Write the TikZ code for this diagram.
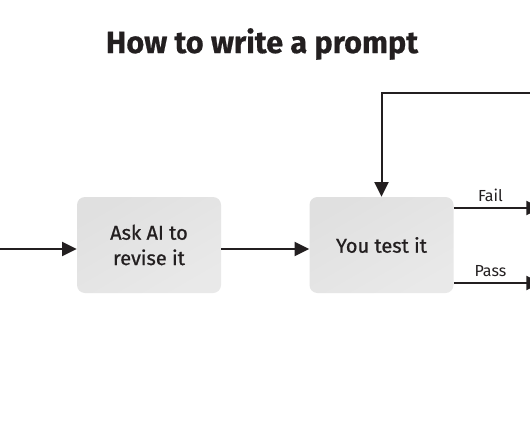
\documentclass[tikz,border=0pt]{standalone}
\usepackage{fontspec}
\setmainfont{Fira Sans}
\usetikzlibrary{arrows.meta}
\definecolor{ink}{HTML}{231F20}
\definecolor{boxfill}{HTML}{E0E0E0}
\definecolor{boxfillb}{HTML}{E9E9E9}
\tikzset{
  stepbox/.style={rounded corners=6pt, minimum width=108pt, minimum height=72pt,
    inner sep=0pt, draw=none, align=center, text=ink,
    font=\fontsize{15}{19}\selectfont\addfontfeatures{FakeBold=0.8},
    top color=boxfill, bottom color=boxfillb, shading angle=30},
  flow/.style={draw=ink, line width=1.5pt, -{Triangle[length=11pt,width=10.5pt]}},
  lbl/.style={text=ink, font=\fontsize{12}{14}\selectfont}
}
\begin{document}
\begin{tikzpicture}[x=0.75pt,y=-0.75pt]
\clip (0,0) rectangle (530,442);
\fill[white] (0,0) rectangle (530,442);
\node[text=ink, font=\fontsize{23}{28}\selectfont\bfseries\addfontfeatures{FakeBold=0.6}] (title) at (262,44) {How to write a prompt};
\node[stepbox] (revise) at (149,245) {Ask AI to\\revise it};
\node[stepbox] (test) at (381.5,245) {You test it};
\coordinate (in) at (-5,249);
\coordinate (loop) at (540,93);
\coordinate (fail) at (541,208);
\coordinate (pass) at (541,283);
\draw[flow] (in) -- (revise.west |- in);
\draw[flow] (revise.east |- in) -- (test.west |- in);
\draw[flow] (loop) -| (test.north);
\draw[flow] (test.east |- fail) -- (fail) node[lbl, pos=0.42, above=1pt] {Fail};
\draw[flow] (test.east |- pass) -- (pass) node[lbl, pos=0.42, above=1pt] {Pass};
\end{tikzpicture}
\end{document}
